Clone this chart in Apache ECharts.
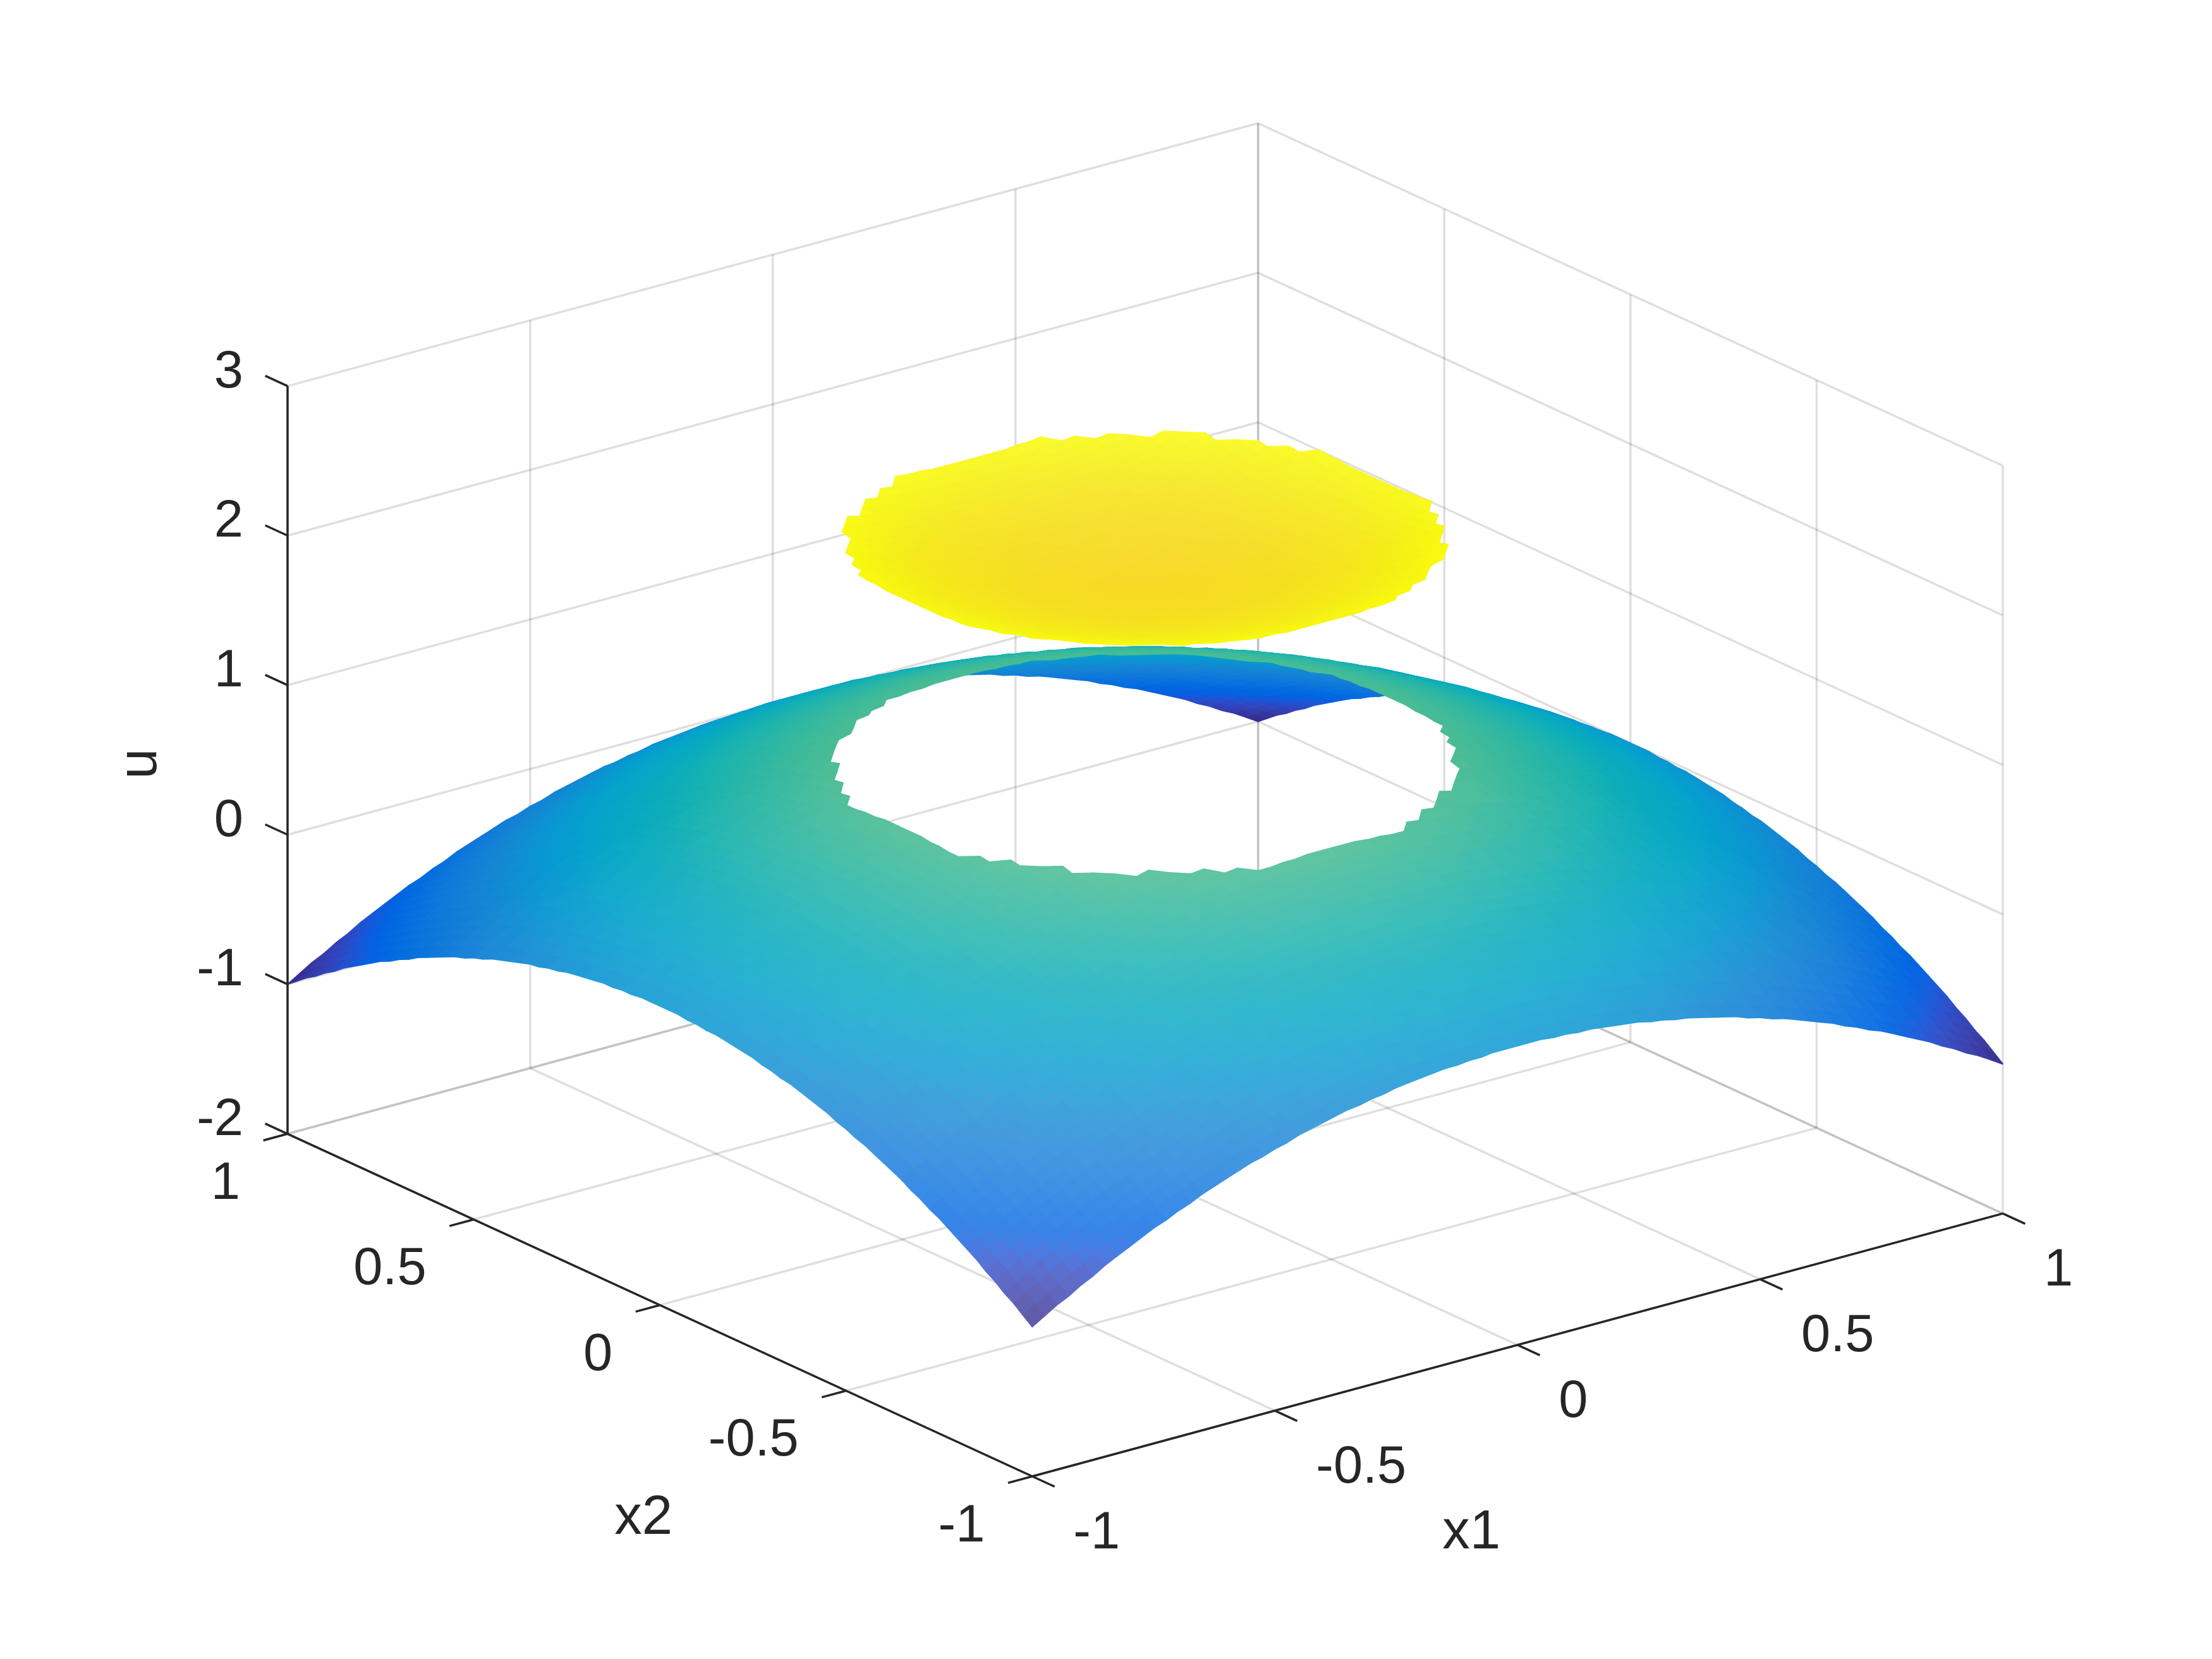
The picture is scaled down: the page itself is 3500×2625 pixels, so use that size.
<!DOCTYPE html>
<html>
<head>
<meta charset="utf-8">
<style>html,body{margin:0;padding:0;background:#fff}#main{width:3500px;height:2625px}</style>
<script src="https://cdn.jsdelivr.net/npm/echarts@6/dist/echarts.min.js"></script>
</head>
<body>
<div id="main"></div>
<script>
var x1Ticks = [-1, -0.5, 0, 0.5, 1];
var x2Ticks = [-1, -0.5, 0, 0.5, 1];
var uTicks = [-2, -1, 0, 1, 2, 3];
var x1TickLabels = ['-1', '-0.5', '0', '0.5', '1'];
var x2TickLabels = ['-1', '-0.5', '0', '0.5', '1'];
var uTickLabels = ['-2', '-1', '0', '1', '2', '3'];

// node positions of one quarter of the surface, the other three are mirror images
var nodes = [0,0.025,0.05,0.075,0.1,0.125,0.15,0.175,0.2,0.225,0.25,0.275,0.3,0.325,0.35,0.375,0.4,0.425,0.45,0.475,0.5,
    0.525,0.55,0.575,0.6,0.625,0.65,0.675,0.7,0.725,0.75,0.775,0.8,0.825,0.85,0.875,0.9,0.925,0.95,0.975,1];

// u read at (x1 = nodes[col], x2 = nodes[row]); values above 1.5 belong to the raised disc
var uQuarter = [
[2,2,2,2.01,2.01,2.02,2.02,2.03,2.04,2.05,2.06,2.08,2.09,2.11,2.12,2.14,2.16,2.18,2.2,2.23,.75,.72,.7,.67,.64,.61,.58,.54,.51,.47,.44,.4,.36,.32,.28,.23,.19,.14,.1,.05,0],
[2,2,2,2.01,2.01,2.02,2.02,2.03,2.04,2.05,2.06,2.08,2.09,2.11,2.12,2.14,2.16,2.18,2.2,2.23,.75,.72,.7,.67,.64,.61,.58,.54,.51,.47,.44,.4,.36,.32,.28,.23,.19,.14,.1,.05,0],
[2,2,2.01,2.01,2.01,2.02,2.03,2.03,2.04,2.05,2.07,2.08,2.09,2.11,2.13,2.14,2.16,2.18,2.21,2.23,.75,.72,.7,.67,.64,.61,.58,.54,.51,.47,.44,.4,.36,.32,.28,.23,.19,.14,.1,.05,0],
[2.01,2.01,2.01,2.01,2.02,2.02,2.03,2.04,2.05,2.06,2.07,2.08,2.1,2.11,2.13,2.15,2.17,2.19,2.21,2.23,.74,.72,.69,.66,.63,.6,.57,.54,.5,.47,.43,.39,.35,.31,.27,.23,.18,.14,.09,.04,-.01],
[2.01,2.01,2.01,2.02,2.02,2.03,2.03,2.04,2.05,2.06,2.07,2.09,2.1,2.12,2.13,2.15,2.17,2.19,2.21,2.24,.74,.71,.69,.66,.63,.6,.57,.53,.5,.46,.43,.39,.35,.31,.27,.22,.18,.13,.09,.04,-.01],
[2.02,2.02,2.02,2.02,2.03,2.03,2.04,2.05,2.06,2.07,2.08,2.09,2.11,2.12,2.14,2.16,2.18,2.2,2.22,2.24,.73,.71,.68,.65,.62,.59,.56,.53,.49,.46,.42,.38,.34,.3,.26,.22,.17,.13,.08,.03,-.02],
[2.02,2.02,2.03,2.03,2.03,2.04,2.05,2.05,2.06,2.07,2.09,2.1,2.11,2.13,2.15,2.16,2.18,2.2,2.23,2.25,.73,.7,.68,.65,.62,.59,.56,.52,.49,.45,.42,.38,.34,.3,.26,.21,.17,.12,.08,.03,-.02],
[2.03,2.03,2.03,2.04,2.04,2.05,2.05,2.06,2.07,2.08,2.09,2.11,2.12,2.14,2.15,2.17,2.19,2.21,2.23,.74,.72,.69,.67,.64,.61,.58,.55,.51,.48,.44,.41,.37,.33,.29,.25,.2,.16,.11,.07,.02,-.03],
[2.04,2.04,2.04,2.05,2.05,2.06,2.06,2.07,2.08,2.09,2.1,2.12,2.13,2.15,2.16,2.18,2.2,2.22,2.24,.73,.71,.68,.66,.63,.6,.57,.54,.5,.47,.43,.4,.36,.32,.28,.24,.19,.15,.1,.06,.01,-.04],
[2.05,2.05,2.05,2.06,2.06,2.07,2.07,2.08,2.09,2.1,2.11,2.13,2.14,2.16,2.17,2.19,2.21,2.23,.75,.72,.7,.67,.65,.62,.59,.56,.53,.49,.46,.42,.39,.35,.31,.27,.23,.18,.14,.09,.05,0,-.05],
[2.06,2.06,2.07,2.07,2.07,2.08,2.09,2.09,2.1,2.11,2.13,2.14,2.15,2.17,2.19,2.2,2.22,2.24,.74,.71,.69,.66,.64,.61,.58,.55,.52,.48,.45,.41,.38,.34,.3,.26,.22,.17,.13,.08,.04,-.01,-.06],
[2.08,2.08,2.08,2.08,2.09,2.09,2.1,2.11,2.12,2.13,2.14,2.15,2.17,2.18,2.2,2.22,2.24,.74,.72,.7,.67,.65,.62,.59,.56,.53,.5,.47,.43,.4,.36,.32,.28,.24,.2,.16,.11,.07,.02,-.03,-.08],
[2.09,2.09,2.09,2.1,2.1,2.11,2.11,2.12,2.13,2.14,2.15,2.17,2.18,2.2,2.21,2.23,.75,.73,.71,.68,.66,.63,.61,.58,.55,.52,.49,.45,.42,.38,.35,.31,.27,.23,.19,.14,.1,.05,.01,-.04,-.09],
[2.11,2.11,2.11,2.11,2.12,2.12,2.13,2.14,2.15,2.16,2.17,2.18,2.2,2.21,2.23,2.25,.73,.71,.69,.67,.64,.62,.59,.56,.53,.5,.47,.44,.4,.37,.33,.29,.25,.21,.17,.13,.08,.04,-.01,-.06,-.11],
[2.12,2.12,2.13,2.13,2.13,2.14,2.15,2.15,2.16,2.17,2.19,2.2,2.21,2.23,2.25,.74,.72,.7,.68,.65,.63,.6,.58,.55,.52,.49,.46,.42,.39,.35,.32,.28,.24,.2,.16,.11,.07,.02,-.03,-.07,-.12],
[2.14,2.14,2.14,2.15,2.15,2.16,2.16,2.17,2.18,2.19,2.2,2.22,2.23,2.25,.74,.72,.7,.68,.66,.63,.61,.58,.56,.53,.5,.47,.44,.4,.37,.33,.3,.26,.22,.18,.14,.09,.05,0,-.04,-.09,-.14],
[2.16,2.16,2.16,2.17,2.17,2.18,2.18,2.19,2.2,2.21,2.22,2.24,.75,.73,.72,.7,.68,.66,.64,.61,.59,.56,.54,.51,.48,.45,.42,.38,.35,.31,.28,.24,.2,.16,.12,.07,.03,-.02,-.06,-.11,-.16],
[2.18,2.18,2.18,2.19,2.19,2.2,2.2,2.21,2.22,2.23,2.24,.74,.73,.71,.7,.68,.66,.64,.62,.59,.57,.54,.52,.49,.46,.43,.4,.36,.33,.29,.26,.22,.18,.14,.1,.05,.01,-.04,-.08,-.13,-.18],
[2.2,2.2,2.21,2.21,2.21,2.22,2.23,2.23,2.24,.75,.74,.72,.71,.69,.68,.66,.64,.62,.6,.57,.55,.52,.5,.47,.44,.41,.38,.34,.31,.27,.24,.2,.16,.12,.08,.03,-.01,-.06,-.11,-.15,-.2],
[2.23,2.23,2.23,2.23,2.24,2.24,2.25,.74,.73,.72,.71,.7,.68,.67,.65,.63,.61,.59,.57,.55,.52,.5,.47,.44,.41,.38,.35,.32,.28,.25,.21,.17,.13,.09,.05,.01,-.04,-.08,-.13,-.18,-.23],
[.75,.75,.75,.74,.74,.73,.73,.72,.71,.7,.69,.67,.66,.64,.63,.61,.59,.57,.55,.52,.5,.47,.45,.42,.39,.36,.33,.29,.26,.22,.19,.15,.11,.07,.03,-.02,-.06,-.11,-.15,-.2,-.25],
[.72,.72,.72,.72,.71,.71,.7,.69,.68,.67,.66,.65,.63,.62,.6,.58,.56,.54,.52,.5,.47,.45,.42,.39,.36,.33,.3,.27,.23,.2,.16,.12,.08,.04,0,-.04,-.09,-.13,-.18,-.23,-.28],
[.7,.7,.7,.69,.69,.68,.68,.67,.66,.65,.64,.62,.61,.59,.58,.56,.54,.52,.5,.47,.45,.42,.4,.37,.34,.31,.28,.24,.21,.17,.14,.1,.06,.02,-.03,-.07,-.11,-.16,-.21,-.25,-.3],
[.67,.67,.67,.66,.66,.65,.65,.64,.63,.62,.61,.59,.58,.56,.55,.53,.51,.49,.47,.44,.42,.39,.37,.34,.31,.28,.25,.21,.18,.14,.11,.07,.03,-.01,-.05,-.1,-.14,-.19,-.23,-.28,-.33],
[.64,.64,.64,.63,.63,.62,.62,.61,.6,.59,.58,.56,.55,.53,.52,.5,.48,.46,.44,.41,.39,.36,.34,.31,.28,.25,.22,.18,.15,.11,.08,.04,0,-.04,-.08,-.13,-.17,-.22,-.26,-.31,-.36],
[.61,.61,.61,.6,.6,.59,.59,.58,.57,.56,.55,.53,.52,.5,.49,.47,.45,.43,.41,.38,.36,.33,.31,.28,.25,.22,.19,.15,.12,.08,.05,.01,-.03,-.07,-.11,-.16,-.2,-.25,-.29,-.34,-.39],
[.58,.58,.58,.57,.57,.56,.56,.55,.54,.53,.52,.5,.49,.47,.46,.44,.42,.4,.38,.35,.33,.3,.28,.25,.22,.19,.16,.12,.09,.05,.02,-.02,-.06,-.1,-.15,-.19,-.23,-.28,-.33,-.37,-.42],
[.54,.54,.54,.54,.53,.53,.52,.51,.5,.49,.48,.47,.45,.44,.42,.4,.38,.36,.34,.32,.29,.27,.24,.21,.18,.15,.12,.09,.05,.02,-.02,-.06,-.1,-.14,-.18,-.22,-.27,-.31,-.36,-.41,-.46],
[.51,.51,.51,.5,.5,.49,.49,.48,.47,.46,.45,.43,.42,.4,.39,.37,.35,.33,.31,.28,.26,.23,.21,.18,.15,.12,.09,.05,.02,-.02,-.05,-.09,-.13,-.17,-.21,-.26,-.3,-.35,-.39,-.44,-.49],
[.47,.47,.47,.47,.46,.46,.45,.44,.43,.42,.41,.4,.38,.37,.35,.33,.31,.29,.27,.25,.22,.2,.17,.14,.11,.08,.05,.02,-.02,-.05,-.09,-.13,-.17,-.21,-.25,-.29,-.34,-.38,-.43,-.48,-.53],
[.44,.44,.44,.43,.43,.42,.42,.41,.4,.39,.38,.36,.35,.33,.32,.3,.28,.26,.24,.21,.19,.16,.14,.11,.08,.05,.02,-.02,-.05,-.09,-.13,-.16,-.2,-.24,-.29,-.33,-.37,-.42,-.47,-.51,-.56],
[.4,.4,.4,.39,.39,.38,.38,.37,.36,.35,.34,.32,.31,.29,.28,.26,.24,.22,.2,.17,.15,.12,.1,.07,.04,.01,-.02,-.06,-.09,-.13,-.16,-.2,-.24,-.28,-.32,-.37,-.41,-.46,-.5,-.55,-.6],
[.36,.36,.36,.35,.35,.34,.34,.33,.32,.31,.3,.28,.27,.25,.24,.22,.2,.18,.16,.13,.11,.08,.06,.03,0,-.03,-.06,-.1,-.13,-.17,-.2,-.24,-.28,-.32,-.36,-.41,-.45,-.5,-.54,-.59,-.64],
[.32,.32,.32,.31,.31,.3,.3,.29,.28,.27,.26,.24,.23,.21,.2,.18,.16,.14,.12,.09,.07,.04,.02,-.01,-.04,-.07,-.1,-.14,-.17,-.21,-.24,-.28,-.32,-.36,-.4,-.45,-.49,-.54,-.58,-.63,-.68],
[.28,.28,.28,.27,.27,.26,.26,.25,.24,.23,.22,.2,.19,.17,.16,.14,.12,.1,.08,.05,.03,0,-.03,-.05,-.08,-.11,-.15,-.18,-.21,-.25,-.29,-.32,-.36,-.4,-.45,-.49,-.53,-.58,-.63,-.67,-.72],
[.23,.23,.23,.23,.22,.22,.21,.2,.19,.18,.17,.16,.14,.13,.11,.09,.07,.05,.03,.01,-.02,-.04,-.07,-.1,-.13,-.16,-.19,-.22,-.26,-.29,-.33,-.37,-.41,-.45,-.49,-.53,-.58,-.62,-.67,-.72,-.77],
[.19,.19,.19,.18,.18,.17,.17,.16,.15,.14,.13,.11,.1,.08,.07,.05,.03,.01,-.01,-.04,-.06,-.09,-.11,-.14,-.17,-.2,-.23,-.27,-.3,-.34,-.37,-.41,-.45,-.49,-.53,-.58,-.62,-.67,-.71,-.76,-.81],
[.14,.14,.14,.14,.13,.13,.12,.11,.1,.09,.08,.07,.05,.04,.02,0,-.02,-.04,-.06,-.08,-.11,-.13,-.16,-.19,-.22,-.25,-.28,-.31,-.35,-.38,-.42,-.46,-.5,-.54,-.58,-.62,-.67,-.71,-.76,-.81,-.86],
[.1,.1,.1,.09,.09,.08,.08,.07,.06,.05,.04,.02,.01,-.01,-.03,-.04,-.06,-.08,-.11,-.13,-.15,-.18,-.21,-.23,-.26,-.29,-.33,-.36,-.39,-.43,-.47,-.5,-.54,-.58,-.63,-.67,-.71,-.76,-.81,-.85,-.9],
[.05,.05,.05,.04,.04,.03,.03,.02,.01,0,-.01,-.03,-.04,-.06,-.07,-.09,-.11,-.13,-.15,-.18,-.2,-.23,-.25,-.28,-.31,-.34,-.37,-.41,-.44,-.48,-.51,-.55,-.59,-.63,-.67,-.72,-.76,-.81,-.85,-.9,-.95],
[0,0,0,-.01,-.01,-.02,-.02,-.03,-.04,-.05,-.06,-.08,-.09,-.11,-.12,-.14,-.16,-.18,-.2,-.23,-.25,-.28,-.3,-.33,-.36,-.39,-.42,-.46,-.49,-.53,-.56,-.6,-.64,-.68,-.72,-.77,-.81,-.86,-.9,-.95,-1]
];

var parula = ['#352a87','#362f93','#3636a0','#353dad','#3243ba','#2b4ac7','#2053d4','#0f5cdd','#0363e1','#0268e1','#046de0','#0871de','#0d75dc','#1079da','#127dd8','#1481d6','#1485d4','#1389d3','#108ed2','#0c93d2','#0998d1','#079ccf','#06a0cd','#06a4ca','#06a7c6','#07a9c2','#0aabbd','#0fadb9','#15b1b4','#1db3af','#25b5a9','#2eb7a4','#38b99e','#42bb98','#4dbc92','#59bd8c','#65be86','#71bf80','#7cbf7b','#87bf77','#92bf73','#9cbf6f','#a5be6b','#aebd67','#b7bd64','#bfbc60','#c8bb5d','#d0bb59','#d9ba56','#e1b952','#e9b94e','#f1b949','#f8ba44','#fdbe3d','#ffc337','#fec832','#fcce2e','#f9d32a','#f9d825','#f5de21','#f5e41d','#f5eb18','#f6f313','#f9fb0e'];

var view = {az: -37.5 * Math.PI / 180, el: 30 * Math.PI / 180};
var uRange = [-2, 3];
var colorRange = [-1, 2.25];

// the original mesh is finer than the table: its lines are 4px wide and about
// 2.25 times closer together, so a cell is tinted by the white that shows through
var meshLine = 4;
var meshRatio = 2.25;
var meshCover = 0.55;
var slopeSpan = 3;

// orthographic view of the unit plot box, the same as a default 3d view
function project(x1, x2, u) {
    var x = (x1 + 1) / 2, y = (x2 + 1) / 2, z = (u - uRange[0]) / (uRange[1] - uRange[0]);
    var h = -x * Math.sin(view.az) + y * Math.cos(view.az);
    return [
        x * Math.cos(view.az) + y * Math.sin(view.az),
        h * Math.sin(view.el) + z * Math.cos(view.el)
    ];
}

function colorOf(u) {
    var t = (u - colorRange[0]) / (colorRange[1] - colorRange[0]);
    return echarts.color.lerp(Math.max(0, Math.min(1, t)), parula);
}

// share of white from the pixel size of one cell along both mesh directions
function whiteShare(a0, a1, n1, b0, b1, n2) {
    var ax = (a1[0] - a0[0]) / n1, ay = (a1[1] - a0[1]) / n1;
    var bx = (b1[0] - b0[0]) / n2, by = (b1[1] - b0[1]) / n2;
    var area = Math.abs(ax * by - ay * bx);
    var h1 = area / Math.sqrt(bx * bx + by * by) / meshRatio;
    var h2 = area / Math.sqrt(ax * ax + ay * ay) / meshRatio;
    return meshCover * Math.max(0, 1 - meshLine / h1) * Math.max(0, 1 - meshLine / h2);
}

// mirror the quarter table into the whole square
var axisNodes = [], nodeIdx = [];
for (var i = nodes.length - 1; i > 0; i--) { axisNodes.push(-nodes[i]); nodeIdx.push(i); }
for (var i = 0; i < nodes.length; i++) { axisNodes.push(nodes[i]); nodeIdx.push(i); }
var lastNode = axisNodes.length - 1;

function uAt(a, b) {
    return uQuarter[nodeIdx[b]][nodeIdx[a]];
}

// widen a step over several table nodes, staying on the same sheet, so that
// the rounding of the table does not show in the tint
function reach(a, b, da, db, sheet) {
    var n = 0;
    while (n < slopeSpan) {
        var na = a + da * (n + 1), nb = b + db * (n + 1);
        if (na < 0 || nb < 0 || na > lastNode || nb > lastNode) break;
        if ((uAt(na, nb) > 1.5) !== sheet) break;
        n++;
    }
    return n;
}

var domeCells = [], discCells = [];
for (var a = 0; a < lastNode; a++) {
    for (var b = 0; b < lastNode; b++) {
        var c = [[a, b], [a + 1, b], [a + 1, b + 1], [a, b + 1]];
        var inDisc = 0;
        c.forEach(function (n) { if (uAt(n[0], n[1]) > 1.5) inDisc++; });
        // half the corners on each sheet: the rim passes through, nothing to draw
        if (inDisc === 2) continue;
        var sheet = inDisc >= 3;
        // on the rim a cell keeps the three corners of its sheet, as a triangle
        var base = c[0];
        for (var k = 0; k < 4; k++) {
            if ((uAt(c[k][0], c[k][1]) > 1.5) !== sheet) {
                base = c[(k + 2) % 4];
                c[k] = c[(k + 1) % 4];
                break;
            }
        }
        var row = [], sum = 0;
        for (var k = 0; k < 4; k++) {
            var v = uAt(c[k][0], c[k][1]);
            row.push(axisNodes[c[k][0]], axisNodes[c[k][1]], v);
            sum += v;
        }
        row.push(sum / 4);
        var ba = base[0], bb = base[1];
        var l = reach(ba, bb, -1, 0, sheet), r = reach(ba, bb, 1, 0, sheet);
        var d = reach(ba, bb, 0, -1, sheet), t = reach(ba, bb, 0, 1, sheet);
        row.push(
            axisNodes[ba - l], axisNodes[bb], uAt(ba - l, bb),
            axisNodes[ba + r], axisNodes[bb], uAt(ba + r, bb), l + r,
            axisNodes[ba], axisNodes[bb - d], uAt(ba, bb - d),
            axisNodes[ba], axisNodes[bb + t], uAt(ba, bb + t), d + t
        );
        (sheet ? discCells : domeCells).push(row);
    }
}
// far cells first so nearer ones cover them
function byDepth(p, q) {
    var dp = -Math.sin(view.az) * (p[0] + p[6]) + Math.cos(view.az) * (p[1] + p[7]);
    var dq = -Math.sin(view.az) * (q[0] + q[6]) + Math.cos(view.az) * (q[1] + q[7]);
    return dq - dp;
}
domeCells.sort(byDepth);
discCells.sort(byDepth);

var gridSegs = [], axisSegs = [];
x1Ticks.forEach(function (t) {
    gridSegs.push([t, -1, -2, t, 1, -2], [t, 1, -2, t, 1, 3]);
    axisSegs.push([t, -1, -2, t, -1.06, -2]);
});
x2Ticks.forEach(function (t) {
    gridSegs.push([-1, t, -2, 1, t, -2], [1, t, -2, 1, t, 3]);
    axisSegs.push([-1, t, -2, -1.05, t, -2]);
});
uTicks.forEach(function (t) {
    gridSegs.push([-1, 1, t, 1, 1, t], [1, -1, t, 1, 1, t]);
    axisSegs.push([-1, 1, t, -1, 1.06, t]);
});
axisSegs.push([-1, 1, -2, -1, -1, -2], [-1, -1, -2, 1, -1, -2], [-1, 1, -2, -1, 1, 3]);

function segmentSeries(data, stroke, z) {
    return {
        type: 'custom',
        coordinateSystem: 'cartesian2d',
        data: data,
        clip: false,
        silent: true,
        z: z,
        animation: false,
        renderItem: function (params, api) {
            var p = api.coord(project(api.value(0), api.value(1), api.value(2)));
            var q = api.coord(project(api.value(3), api.value(4), api.value(5)));
            return {
                type: 'line',
                shape: {x1: p[0], y1: p[1], x2: q[0], y2: q[1]},
                style: {stroke: stroke, lineWidth: 3.5, lineCap: 'butt'}
            };
        }
    };
}

function surfaceSeries(data, z) {
    return {
        type: 'custom',
        coordinateSystem: 'cartesian2d',
        data: data,
        clip: false,
        silent: true,
        z: z,
        progressive: 0,
        animation: false,
        renderItem: function (params, api) {
            function pt(i) {
                return api.coord(project(api.value(i), api.value(i + 1), api.value(i + 2)));
            }
            var pts = [pt(0), pt(3), pt(6), pt(9)];
            var share = whiteShare(pt(13), pt(16), api.value(19), pt(20), pt(23), api.value(26));
            var col = echarts.color.lerp(share, [colorOf(api.value(12)), '#ffffff']);
            return {
                type: 'polygon',
                shape: {points: pts},
                style: {fill: col, stroke: col, lineWidth: 2, lineJoin: 'round'}
            };
        }
    };
}

// text anchored on a point of the box, with a pixel offset
function textSeries(points, labels, dx, dy, align, size, rotation) {
    return {
        type: 'custom',
        coordinateSystem: 'cartesian2d',
        data: points,
        clip: false,
        silent: true,
        z: 10,
        animation: false,
        renderItem: function (params, api) {
            var p = api.coord(project(api.value(0), api.value(1), api.value(2)));
            return {
                type: 'text',
                x: p[0] + dx,
                y: p[1] + dy,
                rotation: rotation || 0,
                style: {
                    text: labels[params.dataIndex],
                    fill: '#262626',
                    fontSize: size,
                    fontFamily: '"Liberation Sans", Arial, sans-serif',
                    align: align,
                    verticalAlign: 'middle'
                }
            };
        }
    };
}

var corners = [project(-1, 1, -2), project(1, -1, -2), project(-1, -1, -2), project(1, 1, 3)];

var option = {
    backgroundColor: '#fff',
    animation: false,
    grid: {left: 455, top: 195, width: 2714, height: 2141},
    xAxis: {type: 'value', show: false, min: corners[0][0], max: corners[1][0]},
    yAxis: {type: 'value', show: false, min: corners[2][1], max: corners[3][1]},
    series: [
        segmentSeries(gridSegs, 'rgba(38,38,38,0.15)', 1),
        surfaceSeries(domeCells, 2),
        surfaceSeries(discCells, 3),
        segmentSeries(axisSegs, '#262626', 4),
        textSeries(x1Ticks.map(function (t) { return [t, -1, -2]; }), x1TickLabels, 65, 91, 'left', 83),
        textSeries(x2Ticks.map(function (t) { return [-1, t, -2]; }), x2TickLabels, -75, 80, 'right', 83),
        textSeries(uTicks.map(function (t) { return [-1, 1, t]; }), uTickLabels, -70, -21, 'right', 83),
        textSeries([[0, -1, -2]], ['x1'], -73, 298, 'center', 87),
        textSeries([[-1, 0, -2]], ['x2'], -26, 338, 'center', 87),
        textSeries([[-1, 1, 0.5]], ['u'], -232, 6, 'center', 87, Math.PI / 2)
    ]
};

var myChart = echarts.init(document.getElementById('main'), null, {renderer: 'canvas'});
myChart.setOption(option);
</script>
</body>
</html>
